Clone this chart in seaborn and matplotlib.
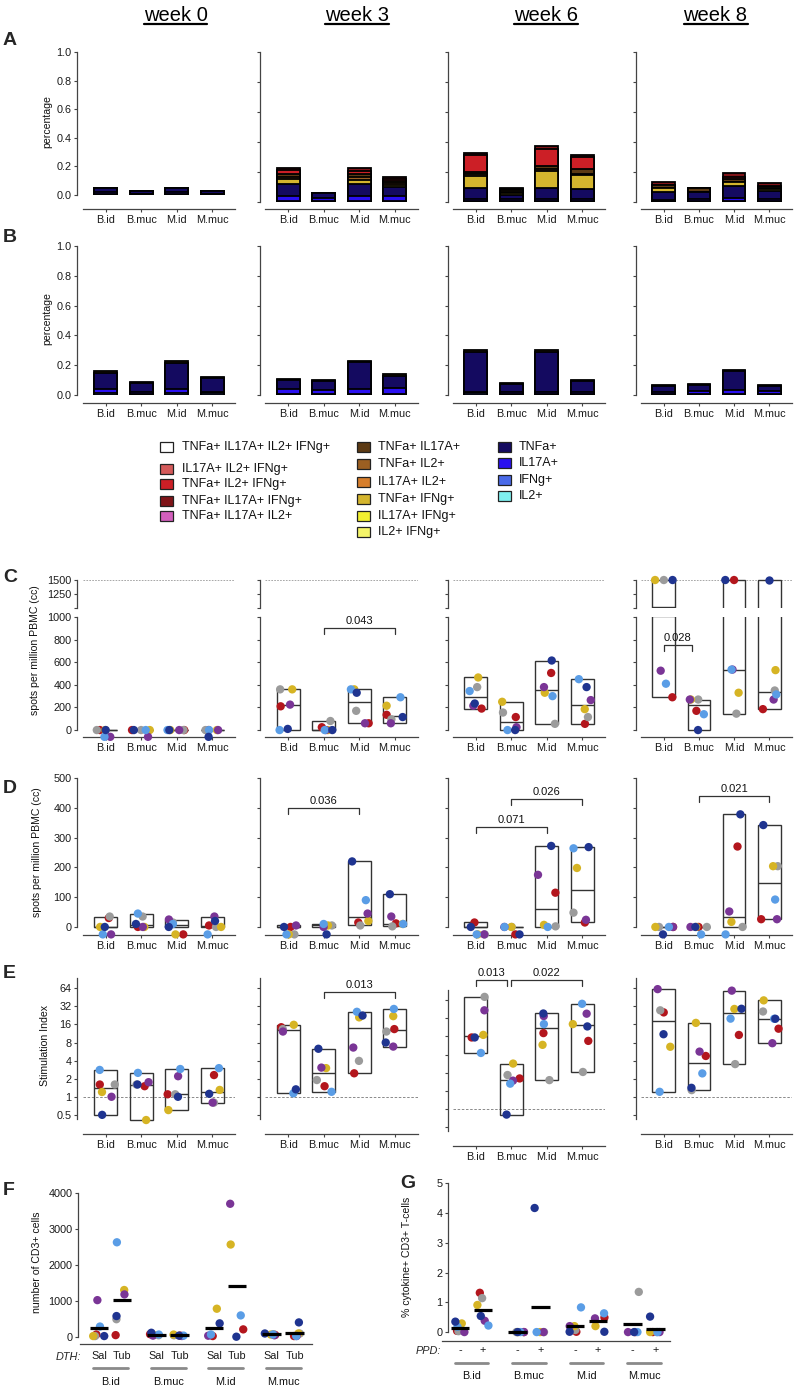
import warnings
warnings.filterwarnings('ignore')
import numpy as np
import pandas as pd
import matplotlib
matplotlib.use('Agg')
import matplotlib.pyplot as plt
import matplotlib.transforms as mtrans
from matplotlib.patches import Rectangle
from matplotlib.lines import Line2D
from matplotlib.ticker import NullLocator
import seaborn as sns

# ---------------------------------------------------------------- data
groups = ['B.id', 'B.muc', 'M.id', 'M.muc']
weeks = ['week 0', 'week 3', 'week 6', 'week 8']
animals = ['NHP1', 'NHP2', 'NHP3', 'NHP4', 'NHP5', 'NHP6']
animal_colors = ['#b3161d', '#9b9b9b', '#d6b424', '#7a3596', '#5a9de6', '#1f3490']

# Panel A: polyfunctional subsets, [week][group]
A_IFNg = [[.008, .005, .008, .005], [.01, .01, .01, .01], [.01, .01, .01, .01], [.005, .005, .005, .005]]
A_IL17A = [[.012, .003, .012, .003], [.03, .02, .03, .03], [.008, .01, .008, .008], [.01, .015, .025, .015]]
A_TNFa = [[.03, .022, .03, .022], [.08, .03, .08, .06], [.075, .03, .075, .07], [.055, .045, .08, .055]]
A_TNFa_IFNg = [[0, 0, 0, 0], [.035, 0, .03, .015], [.08, .01, .115, .095], [.025, 0, .025, .012]]
A_TNFa_IL2 = [[0, 0, 0, 0], [.015, 0, .02, .015], [.015, .006, .015, .005], [0, 0, 0, 0]]
A_TNFa_IL17A = [[0, 0, 0, 0], [.015, 0, .015, .01], [.015, .015, .02, .03], [.02, .026, .02, .015]]
A_TNFa_IL2_IFNg = [[0, 0, 0, 0], [.03, 0, .02, .015], [.11, .008, .11, .08], [0, 0, .01, .005]]
A_TNFa_IL17A_IFNg = [[0, 0, 0, 0], [.015, 0, .025, .015], [.015, .007, .018, .013], [.016, 0, .028, .02]]

# Panel B
B_IFNg = [[.012, .01, .012, .015], [.01, .01, .01, .01], [.012, .01, .01, .01], [.008, .008, .008, .008]]
B_IL17A = [[.025, .012, .025, .003], [.03, .025, .03, .035], [.01, .008, .01, .01], [.015, .02, .025, .02]]
B_TNFa = [[.11, .06, .18, .095], [.06, .058, .18, .085], [.268, .055, .27, .073], [.04, .04, .13, .035]]
B_TNFa_IL17A = [[.013, .008, .013, .007], [.007, .007, .01, .01], [.01, .007, .015, .007], [.007, .007, .007, .007]]

legend_labels = ['TNFa+ IL17A+ IL2+ IFNg+', 'IL17A+ IL2+ IFNg+', 'TNFa+ IL2+ IFNg+', 'TNFa+ IL17A+ IFNg+',
                 'TNFa+ IL17A+ IL2+', 'TNFa+ IL17A+', 'TNFa+ IL2+', 'IL17A+ IL2+', 'TNFa+ IFNg+',
                 'IL17A+ IFNg+', 'IL2+ IFNg+', 'TNFa+', 'IL17A+', 'IFNg+', 'IL2+']
legend_colors = ['#ffffff', '#d45a5a', '#cc1f26', '#7f1418', '#d35fbd', '#5c3a14', '#9c5f22', '#d67e2c',
                 '#d4b52e', '#f2f030', '#f5f56a', '#140a60', '#2a10f0', '#4a6ae8', '#7ff0f0']
subset_color = dict(zip(legend_labels, legend_colors))

# Panel C: IFN-g ELISpot (per group, animals in order NHP1..NHP6); values <0 lie below detection
C_w0 = [[0, 0, 0, -60, -60, 0], [0, 0, 0, -60, 0, 0], [0, 0, 0, 0, 0, 0], [0, 0, 0, 0, 0, -60]]
C_w3 = [[210, 360, 360, 225, 0, 10], [25, 80, 0, 0, 0, 0], [60, 170, 360, 60, 360, 330], [135, 95, 215, 60, 290, 115]]
C_w6 = [[190, 380, 465, 215, 345, 235], [115, 155, 250, 25, 0, 0], [505, 55, 330, 380, 300, 615], [55, 115, 185, 265, 450, 380]]
C_w8 = [[290, 1500, 1500, 525, 410, 1500], [170, 270, 270, 270, 140, 0], [1500, 145, 330, 535, 535, 1500], [185, 350, 530, 270, 315, 1500]]
C_brackets = [(1, 1, 3, 906, '0.043'), (3, 0, 0.8, 752, '0.028')]

# Panel D: IL-17A ELISpot
D_w0 = [[30, 35, 0, -25, -25, 0], [0, 35, 0, 0, 45, 10], [-25, 15, -25, 25, 10, 0], [5, 0, 0, 35, -25, 20]]
D_w3 = [[0, -25, -25, 5, -25, 0], [5, 5, 5, 0, 10, -25], [15, 5, 20, 45, 90, 220], [12, 2, 10, 35, 10, 110]]
D_w6 = [[15, -25, -25, -25, -25, 0], [-25, 0, 0, 0, 0, -25], [115, 2, 7, 175, 0, 272], [15, 48, 198, 24, 264, 268]]
D_w8 = [[0, 0, 0, 0, 0, -25], [0, 0, 0, 0, -25, 0], [270, 0, 17, 52, -25, 378], [26, 204, 204, 26, 92, 342]]
D_brackets = [(1, 0, 2, 400, '0.036'), (2, 0, 2, 335, '0.071'), (2, 1, 3, 428, '0.026'), (3, 1, 3, 440, '0.021')]

# Panel E: stimulation index
E_w0 = [[1.6, 1.6, 1.2, 1.0, 2.8, 0.5], [1.5, 1.6, 0.41, 1.75, 2.5, 1.6], [1.1, 1.1, 0.6, 2.2, 2.9, 1.0], [2.3, 0.8, 1.3, 0.8, 3.0, 1.12]]
E_w3 = [[14.4, 13.4, 15.8, 12.2, 1.14, 1.33], [1.5, 1.9, 3.0, 3.06, 1.21, 6.3], [2.46, 3.96, 21, 6.6, 26, 22.5], [13.4, 12.2, 22, 6.85, 29, 8]]
E_w6 = [[15.4, 73, 17, 43.6, 8.5, 15.4], [3.2, 3.65, 5.66, 2.94, 2.62, 0.8], [18.2, 3.0, 11.6, 35, 25.7, 38.6], [13.5, 4.1, 25.7, 38.3, 56, 23.5]]
E_w8 = [[25.4, 27.5, 6.8, 62, 1.21, 11], [4.78, 1.29, 17, 5.65, 2.45, 1.41], [10.7, 3.5, 29, 58.5, 20, 29.2], [13.6, 26.3, 40.3, 7.8, 19.9, 19.9]]
E_brackets = [(1, 1, 3, 55, '0.013'), (2, 0, 0.88, 141, '0.013'), (2, 1.0, 3, 141, '0.022')]

# Panel F: number of CD3+ cells in DTH biopsies (Sal / Tub)
F_Sal = [[62, 18, 18, 1018, 283, 18], [70, 40, 50, 30, 60, 110], [18, np.nan, 779, 27, 62, 372], [50, 70, 60, 40, 60, 90]]
F_Tub = [[44, 487, 1300, 1177, 2628, 575], [30, 40, 60, 20, 30, 30], [204, np.nan, 2566, 3700, 593, 0], [18, 88, 90, 20, 18, 398]]
# Panel G: % cytokine+ CD3+ T-cells (PPD - / +)
G_minus = [[0.04, 0.03, 0.29, 0.0, 0.18, 0.35], [0, 0, 0, 0, 0, 0], [0.01, 0.07, 0.2, 0.2, 0.83, 0.01], [0, 1.35, np.nan, 0, 0, 0]]
G_plus = [[1.32, 1.14, 0.91, 0.38, 0.22, 0.54], [np.nan, 0, 0, 0, 0, 4.17], [0.49, np.nan, 0.2, 0.46, 0.63, 0.01], [0, 0, 0, 0, 0, 0.52]]

# ---------------------------------------------------------------- style
sns.set_theme(style='ticks')
plt.rcParams['font.family'] = ['Liberation Sans', 'DejaVu Sans']
plt.rcParams['axes.facecolor'] = 'none'
np.random.seed(11)

W, H = 799, 1388
fig = plt.figure(figsize=(W / 100, H / 100), dpi=100)
fig.patch.set_facecolor('white')
pal = dict(zip(animals, animal_colors))
PT = 0.72
SPC = '#444444'
BOXC = '#333333'
TS = 7.8
gpos = np.arange(4.0)

col_x = [(83, 235), (265, 418), (453, 605), (641, 792)]
spine_x = [77, 260, 448, 636]


def px_ax(x0, y0, x1, y1):
    return fig.add_axes([x0 / W, 1 - y1 / H, (x1 - x0) / W, (y1 - y0) / H])


def base_style(ax, ci, ylim, yticks, ylabels, ybounds, bottom_off=0, xlabels=True, log=False):
    ax.set_xlim(-0.65, 3.65)
    if log:
        ax.set_yscale('log', base=2)
    ax.set_ylim(*ylim)
    ax.spines['top'].set_visible(False)
    ax.spines['right'].set_visible(False)
    ax.spines['left'].set_position(('outward', (col_x[ci][0] - spine_x[ci]) * PT))
    ax.spines['left'].set_bounds(*ybounds)
    ax.spines['bottom'].set_position(('outward', bottom_off * PT))
    for s in ('left', 'bottom'):
        ax.spines[s].set_color(SPC)
        ax.spines[s].set_linewidth(0.9)
    ax.set_yticks(yticks)
    ax.set_yticklabels(ylabels if ci == 0 else [])
    ax.yaxis.set_minor_locator(NullLocator())
    ax.xaxis.set_minor_locator(NullLocator())
    if xlabels:
        ax.set_xticks(gpos)
        ax.set_xticklabels(groups)
    else:
        ax.set_xticks([])
        ax.spines['bottom'].set_visible(False)
    ax.tick_params(axis='both', length=2.5, width=0.8, color=SPC, labelsize=TS, labelcolor='#1a1a1a', pad=1.5)
    ax.set_xlabel('')
    ax.set_ylabel('')


def stacked(ax, layers):
    vals = np.array([v for v, c in layers], float)
    cum = np.cumsum(vals, axis=0)
    for i in range(len(layers) - 1, -1, -1):
        sns.barplot(x=gpos, y=cum[i], native_scale=True, orient='x', color=layers[i][1], saturation=1,
                    width=0.65, errorbar=None, edgecolor='black', linewidth=1.3, ax=ax)


def long_df(vals, pos=gpos):
    rows = []
    for p, v in zip(pos, vals):
        for a, val in zip(animals, v):
            rows.append((p, a, val))
    return pd.DataFrame(rows, columns=['pos', 'animal', 'value']).dropna()


def dots(ax, df, log=False, size=6.0, jitter=0.27, swarm=False):
    if len(df) == 0:
        return
    n0 = len(ax.collections)
    kw = dict(data=df, x='pos', y='value', hue='animal', hue_order=animals, palette=pal, native_scale=True,
              orient='x', size=size, linewidth=0, ax=ax, legend=False, zorder=3,
              log_scale=(False, 2) if log else None)
    if swarm:
        sns.swarmplot(**kw)
    else:
        sns.stripplot(jitter=jitter, **kw)
    for c in ax.collections[n0:]:
        c.set_clip_on(False)


def boxes(ax, vals, clip0=True):
    for i, v in enumerate(vals):
        a = np.asarray(v, float)
        a = a[~np.isnan(a)]
        if clip0:
            a = np.clip(a, 0, None)
        lo, hi, med = a.min(), a.max(), np.median(a)
        ax.bar(i, hi - lo, bottom=lo, width=0.65, fill=False, edgecolor=BOXC, linewidth=1.0, zorder=2)
        ax.plot([i - 0.325, i + 0.325], [med, med], color=BOXC, lw=1.0, zorder=2, solid_capstyle='butt')


def bracket(ax, x1, x2, y, label, drop_px=6):
    yd = ax.transData.transform((0, y))[1]
    y2 = ax.transData.inverted().transform((0, yd - drop_px))[1]
    ax.plot([x1, x1, x2, x2], [y2, y, y, y2], color='#333333', lw=0.9, clip_on=False, zorder=4)
    ax.annotate(label, xy=((x1 + x2) / 2, y), xytext=(0, 1.5), textcoords='offset points',
                ha='center', va='bottom', fontsize=8, color='#111111', annotation_clip=False)


# ---------------------------------------------------------------- titles and letters
titles = []
for ci, (wk, cx) in enumerate(zip(weeks, [175.5, 357, 546, 715.5])):
    titles.append(fig.text(cx / W, 1 - 20.7 / H, wk, ha='center', va='baseline', fontsize=14.5, color='black'))
for lab, x, y in [('A', 3, 45), ('B', 3, 241.7), ('C', 3, 581.7), ('D', 3, 793.3), ('E', 3, 978.3),
                  ('F', 3, 1195), ('G', 400, 1188)]:
    fig.text(x / W, 1 - y / H, lab, ha='left', va='baseline', fontsize=14, fontweight='bold')

ylab_kw = dict(rotation=90, ha='center', va='center', fontsize=7.6, color='#111111')
fig.text(47 / W, 1 - 122 / H, 'percentage', **ylab_kw)
fig.text(47 / W, 1 - 319 / H, 'percentage', **ylab_kw)
fig.text(35 / W, 1 - 650 / H, 'spots per million PBMC (cc)', **ylab_kw)
fig.text(37 / W, 1 - 852 / H, 'spots per million PBMC (cc)', **ylab_kw)
fig.text(45 / W, 1 - 1045 / H, 'Stimulation Index', **ylab_kw)
fig.text(37 / W, 1 - 1262 / H, 'number of CD3+ cells', **ylab_kw)
fig.text(407 / W, 1 - 1257 / H, '% cytokine+ CD3+ T-cells', **ylab_kw)

# ---------------------------------------------------------------- panel A
A_sets = [(A_IFNg, 'IFNg+'), (A_IL17A, 'IL17A+'), (A_TNFa, 'TNFa+'), (A_TNFa_IFNg, 'TNFa+ IFNg+'),
          (A_TNFa_IL2, 'TNFa+ IL2+'), (A_TNFa_IL17A, 'TNFa+ IL17A+'), (A_TNFa_IL2_IFNg, 'TNFa+ IL2+ IFNg+'),
          (A_TNFa_IL17A_IFNg, 'TNFa+ IL17A+ IFNg+')]
B_sets = [(B_IFNg, 'IFNg+'), (B_IL17A, 'IL17A+'), (B_TNFa, 'TNFa+'), (B_TNFa_IL17A, 'TNFa+ IL17A+')]
frac_ticks = np.arange(0, 1.01, 0.2)
frac_labels = ['0.0', '0.2', '0.4', '0.6', '0.8', '1.0']
for ci in range(4):
    y1 = 195 if ci == 0 else 202
    ax = px_ax(col_x[ci][0], 52, col_x[ci][1], y1)
    stacked(ax, [(arr[ci], subset_color[name]) for arr, name in A_sets])
    base_style(ax, ci, (0, 1), frac_ticks, frac_labels, (0, 1), bottom_off=(14 if ci == 0 else 7))

# ---------------------------------------------------------------- panel B
for ci in range(4):
    ax = px_ax(col_x[ci][0], 246, col_x[ci][1], 395)
    stacked(ax, [(arr[ci], subset_color[name]) for arr, name in B_sets])
    base_style(ax, ci, (0, 1), frac_ticks, frac_labels, (0, 1), bottom_off=8)

# ---------------------------------------------------------------- legend
leg_cols = [(160, 182, [447, 469, 484, 501, 516], legend_labels[0:5]),
            (357, 378, [447, 464, 482, 499, 516, 532], legend_labels[5:11]),
            (498, 519, [447, 463, 480, 496], legend_labels[11:15])]
for bx, tx, ys, labs in leg_cols:
    for yy, lab in zip(ys, labs):
        fig.add_artist(Rectangle((bx / W, 1 - (yy + 5) / H), 13.3 / W, 10 / H, transform=fig.transFigure,
                                 facecolor=subset_color[lab], edgecolor='#222222', lw=0.9))
        fig.text(tx / W, 1 - yy / H, lab, ha='left', va='center', fontsize=9, color='#111111')

# ---------------------------------------------------------------- panel C (broken axis)
C_all = [C_w0, C_w3, C_w6, C_w8]
for ci in range(4):
    vals = C_all[ci]
    df = long_df(vals)
    axu = px_ax(col_x[ci][0], 578.9, col_x[ci][1], 608)
    axl = px_ax(col_x[ci][0], 617, col_x[ci][1], 737.4)
    dots(axu, df[df.value >= 1000], swarm=True)
    dots(axl, df[df.value < 1000])
    boxes(axu, vals)
    boxes(axl, vals)
    base_style(axu, ci, (1000, 1520), [1000, 1250, 1500], ['', '1250', '1500'], (1000, 1500), xlabels=False)
    base_style(axl, ci, (-65, 1000), np.arange(0, 1001, 200), [str(v) for v in range(0, 1001, 200)], (0, 1000))
    axu.axhline(1500, color='#999999', ls=(0, (2, 1.5)), lw=0.6, zorder=1)
    for b in C_brackets:
        if b[0] == ci:
            bracket(axl, b[1], b[2], b[3], b[4])

# ---------------------------------------------------------------- panel D
D_all = [D_w0, D_w3, D_w6, D_w8]
for ci in range(4):
    vals = D_all[ci]
    ax = px_ax(col_x[ci][0], 778, col_x[ci][1], 935)
    dots(ax, long_df(vals))
    boxes(ax, vals)
    base_style(ax, ci, (-27, 500), np.arange(0, 501, 100), [str(v) for v in range(0, 501, 100)], (0, 500))
    for b in D_brackets:
        if b[0] == ci:
            bracket(ax, b[1], b[2], b[3], b[4])

# ---------------------------------------------------------------- panel E
E_all = [E_w0, E_w3, E_w6, E_w8]
si_ticks = [0.5, 1, 2, 4, 8, 16, 32, 64]
for ci in range(4):
    vals = E_all[ci]
    y0, y1 = (990, 1146) if ci == 2 else (978, 1134)
    ax = px_ax(col_x[ci][0], y0, col_x[ci][1], y1)
    dots(ax, long_df(vals), log=True)
    boxes(ax, vals, clip0=False)
    base_style(ax, ci, (0.24, 95), si_ticks, ['0.5', '1', '2', '4', '8', '16', '32', '64'], (0.42, 95), log=True)
    ax.axhline(1, color='#777777', ls=(0, (3, 2)), lw=0.6, zorder=1)
    for b in E_brackets:
        if b[0] == ci:
            bracket(ax, b[1], b[2], b[3], b[4])

# ---------------------------------------------------------------- panels F and G
pair_pos = [0, 1, 2.5, 3.5, 5, 6, 7.5, 8.5]


def pair_panel(ax, left_vals, right_vals, ylim, yticks, ylabels, ybound_top, xlim, tick_labels, pad):
    vals, pos = [], []
    for k in range(4):
        vals += [left_vals[k], right_vals[k]]
        pos += [pair_pos[2 * k], pair_pos[2 * k + 1]]
    dots(ax, long_df(vals, pos), size=6.0, jitter=0.3)
    for p, v in zip(pos, vals):
        ax.plot([p - 0.4, p + 0.4], [np.nanmean(v)] * 2, color='black', lw=2.3, zorder=4, solid_capstyle='butt')
    ax.set_xlim(*xlim)
    ax.set_ylim(*ylim)
    ax.spines['top'].set_visible(False)
    ax.spines['right'].set_visible(False)
    ax.spines['left'].set_bounds(0, ybound_top)
    for s in ('left', 'bottom'):
        ax.spines[s].set_color(SPC)
        ax.spines[s].set_linewidth(0.9)
    ax.set_yticks(yticks)
    ax.set_yticklabels(ylabels)
    ax.set_xticks(pos)
    ax.set_xticklabels(tick_labels * 4)
    ax.tick_params(axis='y', length=2.5, width=0.8, color=SPC, labelsize=TS, labelcolor='#1a1a1a', pad=1.5)
    ax.tick_params(axis='x', length=0, labelsize=TS, labelcolor='#1a1a1a', pad=pad)
    ax.set_xlabel('')
    ax.set_ylabel('')


axF = px_ax(80, 1193, 312, 1344)
pair_panel(axF, F_Sal, F_Tub, (-203, 4000), [0, 1000, 2000, 3000, 4000], ['0', '1000', '2000', '3000', '4000'],
           4000, (-0.83, 9.26), ['Sal', 'Tub'], 5)
axF.spines['left'].set_position(('outward', 1.5))

axG = px_ax(442, 1183.3, 670, 1340.7)
pair_panel(axG, G_minus, G_plus, (-0.29, 5), [0, 1, 2, 3, 4, 5], ['0', '1', '2', '3', '4', '5'],
           5, (-0.78, 9.13), ['-', '+'], 3)
axG.spines['left'].set_position(('data', -0.52))

for ax, line_y, lab_y, half in [(axF, 1368, 1381.7, 0.76), (axG, 1363, 1376, 0.72)]:
    tr = mtrans.blended_transform_factory(ax.transData, fig.transFigure)
    for k, g in enumerate(groups):
        c = (pair_pos[2 * k] + pair_pos[2 * k + 1]) / 2
        ax.add_line(Line2D([c - half, c + half], [1 - line_y / H] * 2, transform=tr, color='#8a8a8a',
                           lw=2.0, clip_on=False))
        ax.text(c, 1 - lab_y / H, g, transform=tr, ha='center', va='center', fontsize=TS, color='#111111')
fig.text(81 / W, 1 - 1356.7 / H, 'DTH:', ha='right', va='center', style='italic', fontsize=TS)
fig.text(441 / W, 1 - 1350.7 / H, 'PPD:', ha='right', va='center', style='italic', fontsize=TS)

# ---------------------------------------------------------------- underline week titles
fig.canvas.draw()
r = fig.canvas.get_renderer()
for t in titles:
    bb = t.get_window_extent(r)
    yy = (bb.y0 + 0.8) / H
    fig.add_artist(Line2D([bb.x0 / W, bb.x1 / W], [yy, yy], transform=fig.transFigure, color='black', lw=1.6))

fig.savefig('out.png', dpi=100, facecolor='white')
